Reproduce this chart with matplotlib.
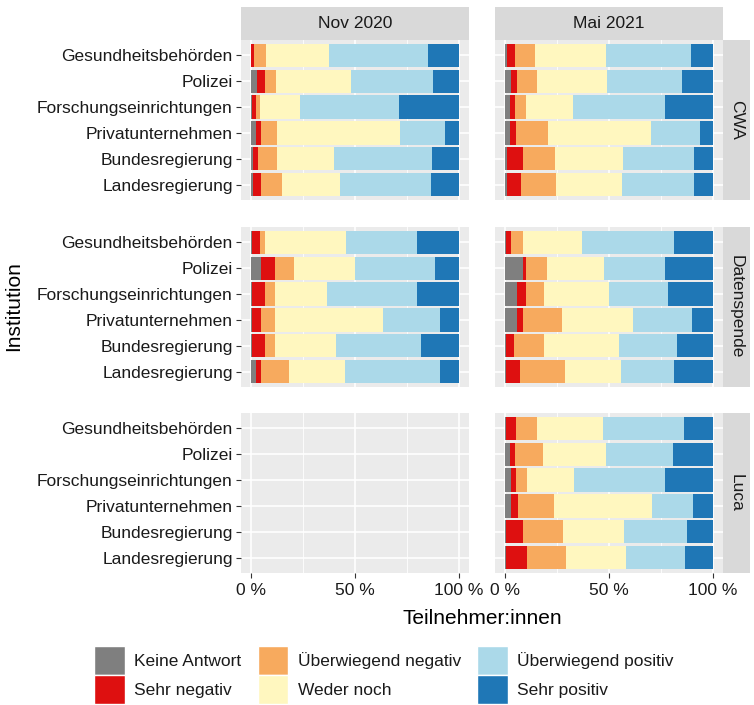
import numpy as np
import matplotlib
matplotlib.use("Agg")
import matplotlib.pyplot as plt
from matplotlib.patches import Patch
from matplotlib.ticker import FixedLocator

plt.rcParams['font.family'] = ['Liberation Sans', 'DejaVu Sans']

# -------------------------------------------------------
# Daten (Anteile in %)
# -------------------------------------------------------
institutionen = ["Gesundheitsbehörden", "Polizei", "Forschungseinrichtungen",
                 "Privatunternehmen", "Bundesregierung", "Landesregierung"]
antworten = ["Keine Antwort", "Sehr negativ", "Überwiegend negativ",
             "Weder noch", "Überwiegend positiv", "Sehr positiv"]
farben = ["#7f7f7f", "#de1010", "#f7aa5e", "#fff7bf", "#abd9e9", "#1f77b6"]
zeitpunkte = ["Nov 2020", "Mai 2021"]
apps = ["CWA", "Datenspende", "Luca"]

cwa_nov = [[0.0, 1.3, 5.6, 30.5, 47.6, 15.0],
           [2.9, 3.7, 5.3, 36.0, 39.5, 12.6],
           [0.5, 1.9, 1.9, 19.4, 47.7, 28.6],
           [2.4, 2.1, 8.1, 58.9, 22.1, 6.4],
           [0.6, 2.6, 9.4, 27.1, 47.4, 12.9],
           [0.8, 3.7, 10.2, 28.1, 43.7, 13.5]]
cwa_mai = [[0.8, 4.0, 9.7, 34.2, 40.8, 10.5],
           [2.7, 2.7, 9.7, 33.7, 36.6, 14.6],
           [2.1, 2.6, 5.3, 22.7, 44.4, 22.9],
           [2.1, 3.1, 15.3, 49.7, 23.5, 6.3],
           [0.8, 7.6, 15.5, 32.9, 34.0, 9.2],
           [0.8, 6.9, 16.8, 31.9, 34.4, 9.2]]
ds_nov = [[0.3, 4.1, 2.4, 38.7, 34.2, 20.3],
          [4.5, 6.8, 9.2, 29.5, 38.7, 11.3],
          [0.3, 6.3, 4.7, 25.2, 43.2, 20.3],
          [0.3, 4.2, 6.8, 52.3, 27.4, 9.0],
          [0.3, 6.3, 4.7, 29.7, 41.0, 18.0],
          [2.1, 2.4, 13.5, 27.4, 45.5, 9.1]]
ds_mai = [[0.3, 2.4, 6.0, 28.5, 44.2, 18.6],
          [8.7, 1.1, 10.2, 27.4, 29.8, 22.8],
          [5.6, 4.2, 8.7, 31.6, 28.4, 21.5],
          [5.6, 2.9, 18.7, 34.4, 28.4, 10.0],
          [0.3, 4.1, 14.4, 35.8, 28.4, 17.0],
          [0.3, 6.8, 21.5, 27.1, 25.8, 18.5]]
luca_nov = None  # keine Daten
luca_mai = [[0.3, 5.0, 9.8, 32.1, 39.0, 13.8],
            [2.4, 2.3, 13.4, 30.3, 32.6, 19.0],
            [2.9, 2.4, 5.2, 22.7, 43.7, 23.1],
            [2.9, 3.1, 17.3, 47.4, 19.7, 9.6],
            [0.3, 8.4, 19.2, 29.4, 30.2, 12.5],
            [0.3, 10.2, 18.7, 29.0, 28.5, 13.3]]

daten = [[cwa_nov, cwa_mai], [ds_nov, ds_mai], [luca_nov, luca_mai]]

# -------------------------------------------------------
# Layout (Pixel -> Figurkoordinaten)
# -------------------------------------------------------
W, H = 754, 705
fig = plt.figure(figsize=(W / 100, H / 100), dpi=100)

def box(x0, y0, x1, y1):
    return [x0 / W, 1 - y1 / H, (x1 - x0) / W, (y1 - y0) / H]

col_x = [(241, 469), (495, 723)]
row_y = [(40, 200), (227, 387), (413, 573)]
textcol = "#1a1a1a"
fs = 12.5

y = np.arange(len(institutionen))
for r, app in enumerate(apps):
    for c, zp in enumerate(zeitpunkte):
        ax = fig.add_axes(box(col_x[c][0], row_y[r][0], col_x[c][1], row_y[r][1]))
        ax.set_facecolor("#ebebeb")
        ax.set_xlim(-5, 105)
        ax.set_ylim(5.6, -0.6)
        ax.xaxis.set_major_locator(FixedLocator([0, 50, 100]))
        ax.xaxis.set_minor_locator(FixedLocator([25, 75]))
        ax.set_yticks(y)
        ax.grid(which="major", color="white", lw=1.2)
        ax.grid(which="minor", axis="x", color="white", lw=0.6)
        ax.set_axisbelow(True)
        for s in ax.spines.values():
            s.set_visible(False)
        ax.tick_params(which="minor", length=0)
        ax.tick_params(which="major", length=3.5, width=0.8, color="#333333",
                       labelsize=fs, labelcolor=textcol, pad=2.5)
        ax.tick_params(axis="x", pad=4)

        werte = daten[r][c]
        if werte is not None:
            werte = np.array(werte)
            werte = werte / werte.sum(axis=1, keepdims=True) * 100
            links = np.zeros(len(institutionen))
            for k in range(len(antworten)):
                ax.barh(y, werte[:, k], left=links, height=0.9,
                        color=farben[k], lw=0)
                links += werte[:, k]

        if c == 0:
            ax.set_yticklabels(institutionen)
        else:
            ax.tick_params(axis="y", length=0, labelleft=False)
        if r == 2:
            ax.set_xticklabels(["0 %", "50 %", "100 %"])
        else:
            ax.tick_params(axis="x", length=0, labelbottom=False)

        # Streifen oben
        if r == 0:
            sax = fig.add_axes(box(col_x[c][0], 7, col_x[c][1], 40))
            sax.set_facecolor("#d9d9d9")
            sax.set_xticks([]); sax.set_yticks([])
            for s in sax.spines.values():
                s.set_visible(False)
            sax.text(0.5, 0.5, zp, ha="center", va="center", fontsize=fs,
                     color=textcol, transform=sax.transAxes)

    # Streifen rechts
    sax = fig.add_axes(box(723, row_y[r][0], 750, row_y[r][1]))
    sax.set_facecolor("#d9d9d9")
    sax.set_xticks([]); sax.set_yticks([])
    for s in sax.spines.values():
        s.set_visible(False)
    sax.text(0.5, 0.5, app, ha="center", va="center", fontsize=fs,
             rotation=-90, color=textcol, transform=sax.transAxes)

# Achsentitel
fig.text(14 / W, 1 - 306 / H, "Institution", rotation=90, ha="center",
         va="center", fontsize=15, color="black")
fig.text(482 / W, 1 - 619 / H, "Teilnehmer:innen", ha="center",
         va="center", fontsize=15, color="black")

# Legende
handles = [Patch(facecolor=f, edgecolor="white", lw=1) for f in farben]
fig.legend(handles, antworten, ncol=3, loc="center",
           bbox_to_anchor=(384 / W, 1 - 675 / H), frameon=False,
           fontsize=fs, handlelength=1.75, handleheight=2.2,
           handletextpad=0.55, columnspacing=0.95, labelspacing=0.0,
           borderpad=0, labelcolor=textcol)

plt.savefig("out.png", dpi=100)
